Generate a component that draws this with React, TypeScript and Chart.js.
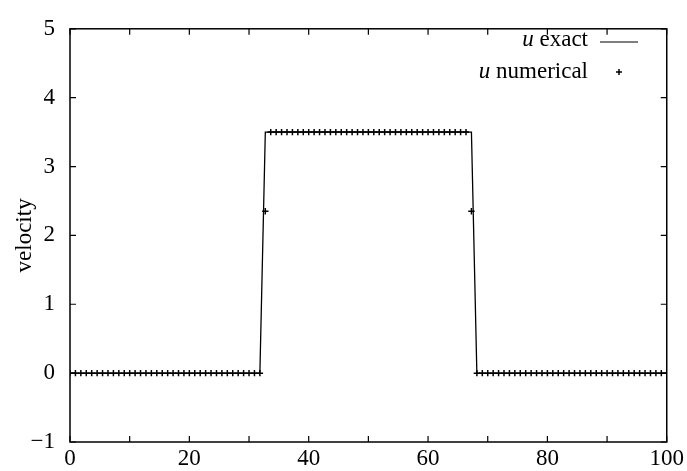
import React, { useEffect, useRef } from "react";
import { Chart, registerables } from "chart.js";

Chart.register(...registerables);

// Exact solution (piecewise linear)
const exactX = [0, 31.82, 32.73, 67.27, 68.18, 100];
const exactY = [0, 0, 3.5, 3.5, 0, 0];

// Numerical solution on a uniform grid of 111 nodes (spacing 100/110)
const gridStep = 100 / 110;
const numericalY = [
  0, 0, 0, 0, 0, 0, 0, 0, 0, 0,
  0, 0, 0, 0, 0, 0, 0, 0, 0, 0,
  0, 0, 0, 0, 0, 0, 0, 0, 0, 0,
  0, 0, 0, 0, 0, 0,
  2.35,
  3.5, 3.5, 3.5, 3.5, 3.5, 3.5, 3.5, 3.5, 3.5, 3.5,
  3.5, 3.5, 3.5, 3.5, 3.5, 3.5, 3.5, 3.5, 3.5, 3.5,
  3.5, 3.5, 3.5, 3.5, 3.5, 3.5, 3.5, 3.5, 3.5, 3.5,
  3.5, 3.5, 3.5, 3.5, 3.5, 3.5, 3.5,
  2.35,
  0, 0, 0, 0, 0, 0, 0, 0, 0, 0,
  0, 0, 0, 0, 0, 0, 0, 0, 0, 0,
  0, 0, 0, 0, 0, 0, 0, 0, 0, 0,
  0, 0, 0, 0, 0, 0,
];

const xTicks = [0, 10, 20, 30, 40, 50, 60, 70, 80, 90, 100];
const yTicks = [-1, 0, 1, 2, 3, 4, 5];
const yTitle = "velocity";
const legendExact = "exact";
const legendNumerical = "numerical";

const FONT = "'Liberation Serif', 'DejaVu Serif', serif";
const FS = 23;

const framePlugin = {
  id: "gnuplotFrame",
  afterDraw(chart: any) {
    const { ctx, chartArea } = chart;
    const { left, right, top, bottom } = chartArea;
    const xs = chart.scales.x;
    const ys = chart.scales.y;
    ctx.save();
    ctx.strokeStyle = "#000";
    ctx.lineWidth = 1.5;
    ctx.strokeRect(left, top, right - left, bottom - top);
    ctx.lineWidth = 1.2;
    const tl = 6;
    ctx.beginPath();
    xTicks.forEach((v) => {
      const px = xs.getPixelForValue(v);
      ctx.moveTo(px, bottom);
      ctx.lineTo(px, bottom - tl);
      ctx.moveTo(px, top);
      ctx.lineTo(px, top + tl);
    });
    yTicks.forEach((v) => {
      const py = ys.getPixelForValue(v);
      ctx.moveTo(left, py);
      ctx.lineTo(left + tl, py);
      ctx.moveTo(right, py);
      ctx.lineTo(right - tl, py);
    });
    ctx.stroke();

    // y title
    ctx.fillStyle = "#000";
    ctx.font = `${FS}px ${FONT}`;
    ctx.textAlign = "center";
    ctx.textBaseline = "middle";
    ctx.save();
    ctx.translate(25, (top + bottom) / 2);
    ctx.rotate(-Math.PI / 2);
    ctx.fillText(yTitle, 0, 0);
    ctx.restore();

    // legend
    const textRight = 588;
    const drawEntry = (label: string, y: number) => {
      ctx.textBaseline = "middle";
      ctx.textAlign = "right";
      ctx.font = `${FS}px ${FONT}`;
      const rest = " " + label;
      ctx.fillText(rest, textRight, y);
      const w = ctx.measureText(rest).width;
      ctx.font = `italic ${FS}px ${FONT}`;
      ctx.fillText("u", textRight - w, y);
    };
    drawEntry(legendExact, 40);
    drawEntry(legendNumerical, 72);
    ctx.lineWidth = 1.2;
    ctx.beginPath();
    ctx.moveTo(600, 42);
    ctx.lineTo(638, 42);
    ctx.stroke();
    ctx.lineWidth = 1.5;
    ctx.beginPath();
    ctx.moveTo(616, 72);
    ctx.lineTo(622, 72);
    ctx.moveTo(619, 69);
    ctx.lineTo(619, 75);
    ctx.stroke();
    ctx.restore();
  },
};

export default function App() {
  const ref = useRef<HTMLCanvasElement | null>(null);

  useEffect(() => {
    document.body.style.margin = "0";
    if (!ref.current) return;
    const exactData = exactX.map((x, i) => ({ x, y: exactY[i] }));
    const numData = numericalY.map((y, i) => ({ x: i * gridStep, y }));
    const chart = new Chart(ref.current, {
      type: "scatter",
      data: {
        datasets: [
          {
            label: "u exact",
            data: exactData,
            showLine: true,
            borderColor: "#000",
            borderWidth: 1.3,
            pointRadius: 0,
            fill: false,
          },
          {
            label: "u numerical",
            data: numData,
            showLine: false,
            pointStyle: "cross",
            pointRadius: 3.2,
            borderColor: "#000",
            borderWidth: 1.5,
          },
        ],
      },
      options: {
        animation: false,
        responsive: false,
        layout: { padding: { top: 13, right: 18, left: 0, bottom: 0 } },
        plugins: { legend: { display: false }, tooltip: { enabled: false } },
        scales: {
          x: {
            type: "linear",
            min: 0,
            max: 100,
            grid: { display: false, drawTicks: false },
            border: { display: false },
            afterFit: (s: any) => {
              s.height = 29;
            },
            afterBuildTicks: (s: any) => {
              s.ticks = xTicks.filter((v) => v % 20 === 0).map((v) => ({ value: v }));
            },
            ticks: {
              autoSkip: false,
              maxRotation: 0,
              padding: 3,
              color: "#000",
              font: { family: FONT, size: FS },
            },
          },
          y: {
            type: "linear",
            min: -1,
            max: 5,
            grid: { display: false, drawTicks: false },
            border: { display: false },
            afterFit: (s: any) => {
              s.width = 70;
            },
            afterBuildTicks: (s: any) => {
              s.ticks = yTicks.map((v) => ({ value: v }));
            },
            ticks: {
              autoSkip: false,
              padding: 15,
              color: "#000",
              font: { family: FONT, size: FS },
              callback: (v: any) => (v < 0 ? "\u2212" + Math.abs(v) : String(v)),
            },
          },
        },
      },
      plugins: [framePlugin],
    });
    return () => chart.destroy();
  }, []);

  return (
    <div style={{ width: 687, height: 471 }}>
      <canvas ref={ref} width={687} height={471} style={{ display: "block" }} />
    </div>
  );
}
